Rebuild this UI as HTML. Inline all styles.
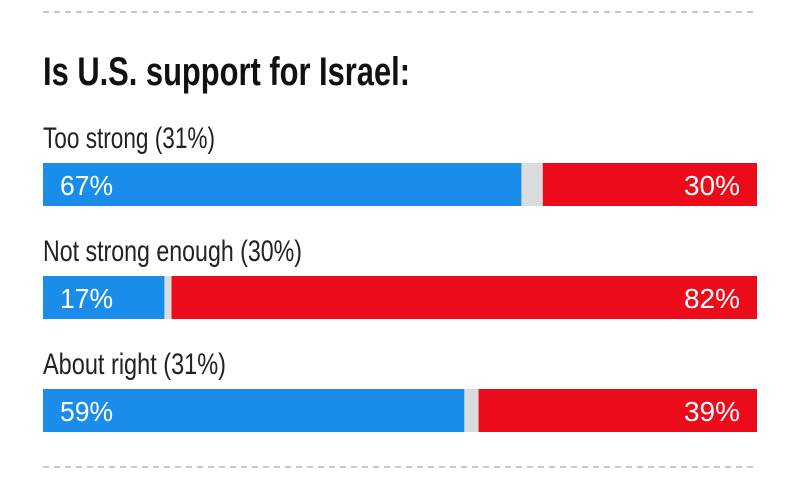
<!DOCTYPE html>
<html><head><meta charset="utf-8"><style>
html,body{margin:0;padding:0;background:#fff;}
svg{display:block;font-family:"Liberation Sans Narrow","Liberation Sans",sans-serif;}
</style></head><body>
<svg id="chart" width="800" height="487" viewBox="0 0 800 487" xmlns="http://www.w3.org/2000/svg">
<line x1="43" y1="12" x2="757" y2="12" stroke="#c8c8c8" stroke-width="2" stroke-dasharray="6,5"/>
<text x="43" y="85" font-size="40" font-weight="bold" fill="#111" textLength="367" lengthAdjust="spacingAndGlyphs">Is U.S. support for Israel:</text>
<line x1="43" y1="467" x2="757" y2="467" stroke="#c8c8c8" stroke-width="2" stroke-dasharray="6,5"/>
<g id="bars"></g>
</svg>
<script>
const categories = ["Too strong (31%)", "Not strong enough (30%)", "About right (31%)"];
const blueValues = [67, 17, 59];
const redValues = [30, 82, 39];
const blueLabels = ["67%", "17%", "59%"];
const redLabels = ["30%", "82%", "39%"];

const NS = "http://www.w3.org/2000/svg";
const g = document.getElementById("bars");
const x0 = 43, W = 714, barH = 43, rowTop = 163, rowStep = 113;
const xs = v => x0 + v / 100 * W;
const labelWidths = [172, 259, 183];
function mk(tag, attrs) { const e = document.createElementNS(NS, tag); for (const k in attrs) e.setAttribute(k, attrs[k]); g.appendChild(e); return e; }
categories.forEach((c, i) => {
  const y = rowTop + i * rowStep;
  const lab = mk("text", {x: x0, y: y - 15, "font-size": 30, fill: "#222", textLength: labelWidths[i], lengthAdjust: "spacingAndGlyphs"});
  lab.textContent = c;
  
  
  const bg = mk("rect", {x: x0, y: y, width: W, height: barH, fill: "#d9dcde"});
  
  
  const b = mk("rect", {x: x0, y: y, width: xs(blueValues[i]) - x0, height: barH, fill: "#1a8deb"});
  
  
  const r = mk("rect", {x: xs(100 - redValues[i]), y: y, width: x0 + W - xs(100 - redValues[i]), height: barH, fill: "#ec0b1b"});
  
  
  const bt = mk("text", {x: 60, y: y + 32, "font-size": 28, fill: "#fff", textLength: 53, lengthAdjust: "spacingAndGlyphs"});
  bt.textContent = blueLabels[i];
  
  
  const rt = mk("text", {x: 740, y: y + 32, "font-size": 28, fill: "#fff", "text-anchor": "end", textLength: 56, lengthAdjust: "spacingAndGlyphs"});
  rt.textContent = redLabels[i];
  
  
});
</script>
</body></html>
